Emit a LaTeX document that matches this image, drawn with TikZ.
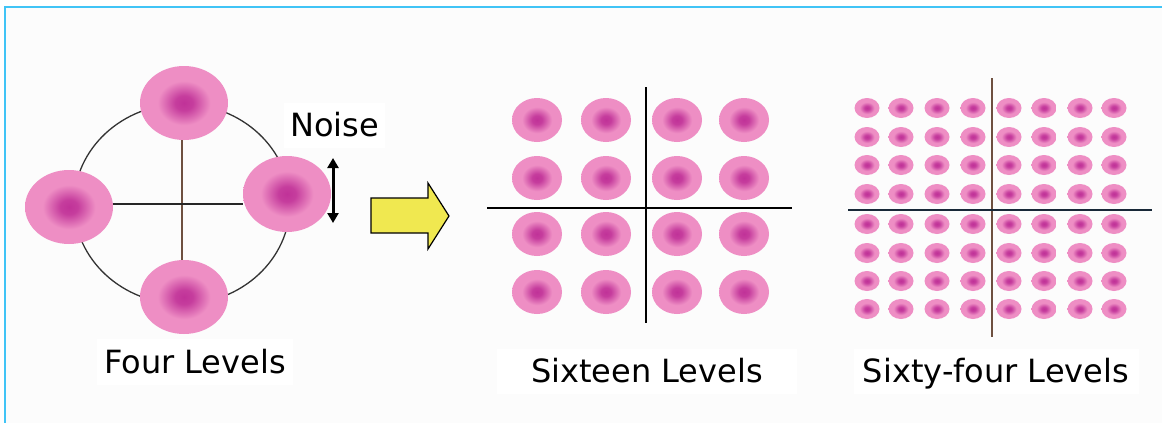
\documentclass[tikz,border=0pt]{standalone}
\usepackage{fontspec}
\setmainfont{DejaVu Sans}
\usetikzlibrary{shapes.geometric,arrows.meta}
\definecolor{framec}{RGB}{64,196,246}
\definecolor{bgc}{RGB}{252,252,252}
\definecolor{pinkc}{RGB}{238,142,196}
\definecolor{magc}{RGB}{192,50,152}
\definecolor{yelc}{RGB}{240,232,80}
\definecolor{brownc}{RGB}{110,80,64}
\definecolor{navyc}{RGB}{24,40,56}
\pgfdeclareradialshading{blobshade}{\pgfpoint{0bp}{0bp}}{color(0bp)=(magc); color(5bp)=(magc!88!pinkc); color(15bp)=(pinkc); color(50bp)=(pinkc)}
\tikzset{
  blob/.style 2 args={ellipse, draw=none, inner sep=0pt, minimum width=#1pt, minimum height=#2pt,
    shade, shading=blobshade},
  lbl/.style={fill=white, inner sep=0pt, text height=23pt, text depth=0pt,
    font=\fontsize{32}{36}\selectfont},
  axis/.style={line width=1.5pt},
}
\begin{document}
\begin{tikzpicture}[x=1pt,y=-1pt]
\useasboundingbox (0,0) rectangle (1162,423);
\fill[white] (0,0) rectangle (1162,423);
\fill[bgc] (4.5,6.5) rectangle (1162,423);
\draw[framec, line width=2pt] (4.5,423) -- (4.5,6.5) -- (1162,6.5);

% ---- four levels ----
\draw[line width=1.3pt, black!80] (182,204) ellipse [x radius=108, y radius=100];
\node[blob={88}{74}] (t) at (184,103) {};
\node[blob={88}{74}] (b) at (184,297) {};
\node[blob={88}{74}] (l) at (69,207) {};
\node[blob={88}{76}] (r) at (287,194) {};
\coordinate (vt) at (182,140);
\coordinate (vb) at (182,260);
\coordinate (hl) at (113,204);
\coordinate (hr) at (243,204);
\draw[line width=1.2pt, brownc] (vt) -- (vb);
\draw[line width=1.2pt, black!85] (hl) -- (hr);

\node[lbl, minimum width=101pt, minimum height=45pt] (noise) at (334.5,125) {Noise};
\coordinate (na) at (333,158);
\coordinate (nb) at (333,223);
\draw[line width=3pt, {Triangle[width=11pt,length=10pt]}-{Triangle[width=11pt,length=10pt]}] (na) -- (nb);

\node[lbl, minimum width=196pt, minimum height=46pt] (four) at (195,362) {Four Levels};

% ---- big arrow ----
\draw[fill=yelc, draw=black, line width=1.2pt, line join=miter]
  (371,198) -- (428,198) -- (428,183) -- (449,216) -- (428,249) -- (428,233) -- (371,233) -- cycle;

% ---- sixteen levels ----
\coordinate (s1) at (646,87);
\coordinate (s2) at (646,323);
\coordinate (s3) at (487,208);
\coordinate (s4) at (792,208);
\draw[axis, black] (s1) -- (s2);
\draw[axis, black] (s3) -- (s4);
\foreach \x [count=\i] in {537,606,677,744}
  \foreach \y [count=\j] in {120,178,234,292}
    \node[blob={50}{44}] (a\i\j) at (\x,\y) {};
\node[lbl, minimum width=300pt, minimum height=45pt] (sixteen) at (647,371) {Sixteen Levels};

% ---- sixty-four levels ----
\coordinate (q1) at (992,78);
\coordinate (q2) at (992,337);
\coordinate (q3) at (848,210);
\coordinate (q4) at (1152,210);
\draw[axis, brownc] (q1) -- (q2);
\draw[line width=2pt, navyc] (q3) -- (q4);
\foreach \x [count=\i] in {867,901,937,973,1009,1044,1080,1114}
  \foreach \y [count=\j] in {108,137,165,194,224,253,281,309}
    \node[blob={25}{20}] (c\i\j) at (\x,\y) {};
\node[lbl, minimum width=285pt, minimum height=45pt] (sixtyfour) at (996,371) {Sixty-four Levels};
\end{tikzpicture}
\end{document}
